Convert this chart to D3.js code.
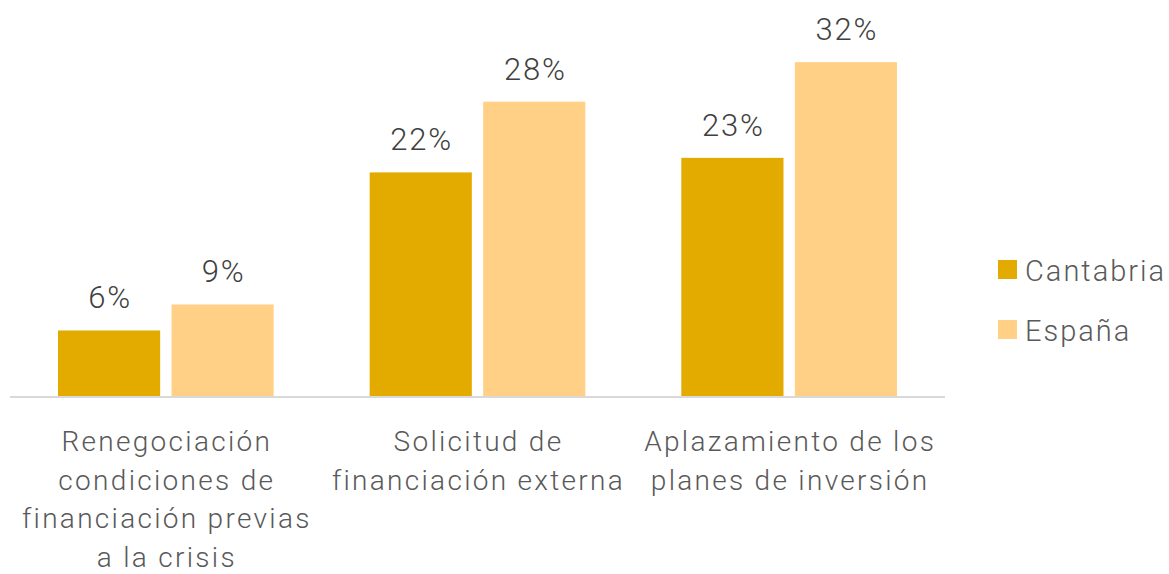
<!DOCTYPE html>
<html>
<head>
<meta charset="utf-8">
<script src="https://cdn.jsdelivr.net/npm/d3@7"></script>
<style>
  body { margin: 0; background: #fff; }
  svg text { font-family: Roboto, "Noto Sans", sans-serif; font-weight: 300; }
</style>
</head>
<body>
<div id="chart"></div>
<script>
// data
var categories = ["Renegociación", "Solicitud", "Aplazamiento"];
var categoryLines = [
  ["Renegociación", "condiciones de", "financiación previas", "a la crisis"],
  ["Solicitud de", "financiación externa"],
  ["Aplazamiento de los", "planes de inversión"]
];
var seriesNames = ["Cantabria", "España"];
var cantabria = [6.3, 21.5, 22.9];
var espana = [8.8, 28.3, 32.1];
var seriesColors = ["#e3aa00", "#ffd086"];

var width = 1169, height = 574;
var svg = d3.select("#chart").append("svg")
    .attr("width", width)
    .attr("height", height);

var x0 = d3.scaleBand()
    .domain(categories)
    .range([10, 945]);

var bw = x0.bandwidth();
var x1 = d3.scaleBand()
    .domain(seriesNames)
    .range([bw * 0.154, bw * 0.846])
    .paddingInner(0.1);

var y = d3.scaleLinear()
    .domain([0, 35])
    .range([396, 32]);

var rows = categories.map(function(c, i) {
    return { cat: c, values: [cantabria[i], espana[i]] };
});

var groups = svg.selectAll(".group").data(rows).enter().append("g")
    .attr("class", "group")
    .attr("transform", function(d) { return "translate(" + x0(d.cat) + ",0)"; });

groups.selectAll("rect").data(function(d) {
        return d.values.map(function(v, j) { return { s: seriesNames[j], v: v, j: j }; });
    }).enter().append("rect")
    .attr("x", function(d) { return x1(d.s); })
    .attr("y", function(d) { return y(d.v); })
    .attr("width", x1.bandwidth())
    .attr("height", function(d) { return y(0) - y(d.v); })
    .attr("fill", function(d) { return seriesColors[d.j]; });

groups.selectAll(".val").data(function(d) {
        return d.values.map(function(v, j) { return { s: seriesNames[j], v: v }; });
    }).enter().append("text")
    .attr("class", "val")
    .attr("x", function(d) { return x1(d.s) + x1.bandwidth() / 2 + 1; })
    .attr("y", function(d) { return y(d.v) - 22; })
    .attr("text-anchor", "middle")
    .attr("font-size", 31)
    .attr("letter-spacing", 1.8)
    .attr("fill", "#404040")
    .text(function(d) { return Math.round(d.v) + "%"; });

// baseline
svg.append("line")
    .attr("x1", 10).attr("x2", 945)
    .attr("y1", y(0) + 1).attr("y2", y(0) + 1)
    .attr("stroke", "#d9d9d9")
    .attr("stroke-width", 2);

// category labels
categories.forEach(function(c, i) {
    var cx = x0(c) + bw / 2 + 1;
    var t = svg.append("text")
        .attr("x", cx)
        .attr("y", 451)
        .attr("text-anchor", "middle")
        .attr("font-size", 28)
        .attr("letter-spacing", 2.3)
        .attr("fill", "#595959");
    categoryLines[i].forEach(function(line, k) {
        t.append("tspan")
            .attr("x", cx)
            .attr("dy", k === 0 ? 0 : 38.6)
            .text(line);
    });
});

// legend
var legend = svg.selectAll(".legend").data(seriesNames).enter().append("g")
    .attr("class", "legend")
    .attr("transform", function(d, i) { return "translate(998," + (260 + i * 60) + ")"; });

legend.append("rect")
    .attr("width", 19).attr("height", 19)
    .attr("fill", function(d, i) { return seriesColors[i]; });

legend.append("text")
    .attr("x", 27)
    .attr("y", 21)
    .attr("font-size", 29)
    .attr("letter-spacing", 2)
    .attr("fill", "#595959")
    .text(function(d) { return d; });
</script>
</body>
</html>
